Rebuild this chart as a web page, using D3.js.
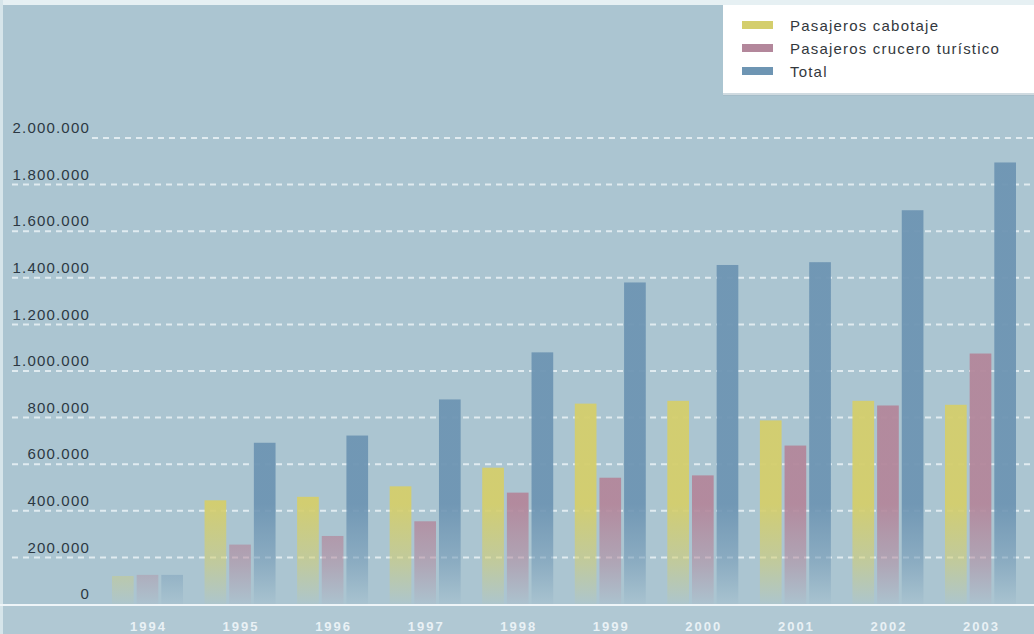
<!DOCTYPE html>
<html>
<head>
<meta charset="utf-8">
<script src="https://cdn.jsdelivr.net/npm/d3@7"></script>
<style>
  body { margin: 0; background: #abc5d1; }
  svg { display: block; }
  .tick-label { font-family: "Liberation Sans", Arial, sans-serif; font-size: 15px; fill: #2b3843; letter-spacing: 1.2px; }
  .year-label { font-family: "Liberation Sans", Arial, sans-serif; font-size: 13px; font-weight: bold; fill: #e9f1f5; letter-spacing: 2px; }
  .legend-text { font-family: "Liberation Sans", Arial, sans-serif; font-size: 15px; fill: #33383d; letter-spacing: 1.2px; }
</style>
</head>
<body>
<div id="chart"></div>
<script>
var width = 1034,
    height = 634;

// data
var years = ["1994", "1995", "1996", "1997", "1998", "1999", "2000", "2001", "2002", "2003"];
var cabotaje = [120000, 445000, 460000, 505000, 585000, 860000, 872000, 788000, 872000, 855000];
var crucero  = [125000, 255000, 292000, 355000, 478000, 542000, 552000, 680000, 852000, 1075000];
var total    = [125000, 692000, 723000, 878000, 1080000, 1380000, 1455000, 1467000, 1690000, 1895000];
var seriesNames = ["Pasajeros cabotaje", "Pasajeros crucero turístico", "Total"];
var seriesColors = ["#d4ce6c", "#b3879b", "#6e95b3"];
var yTicks = [0, 200000, 400000, 600000, 800000, 1000000, 1200000, 1400000, 1600000, 1800000, 2000000];

var series = [cabotaje, crucero, total];

var locale = d3.formatLocale({decimal: ",", thousands: ".", grouping: [3], currency: ["", ""]});
var fmt = locale.format(",d");

var svg = d3.select("#chart").append("svg")
  .attr("width", width)
  .attr("height", height);

var defs = svg.append("defs");

//scales
var xScale = d3.scaleBand()
  .domain(years)
  .range([112, 1016])
  .paddingInner(0.233)
  .paddingOuter(0);

var xSub = d3.scaleBand()
  .domain(d3.range(series.length))
  .range([0, xScale.bandwidth()])
  .paddingInner(0.12);

var yScale = d3.scaleLinear()
  .domain([0, 2000000])
  .range([604, 138]);

//background
svg.append("rect")
  .attr("width", width).attr("height", height)
  .attr("fill", "#abc5d1");
svg.append("rect")
  .attr("y", yScale(0)).attr("width", width).attr("height", height - yScale(0))
  .attr("fill", "#b0c8d3");
svg.append("rect")
  .attr("width", width).attr("height", 5)
  .attr("fill", "#e6f0f3");
svg.append("rect")
  .attr("width", 3).attr("height", height)
  .attr("fill", "#d6e5ea");

//grid lines
svg.append("g")
  .selectAll("line")
  .data(yTicks.slice(1))
  .enter().append("line")
    .attr("x1", function(d) { return d == 2000000 ? 92 : 12; })
    .attr("x2", width)
    .attr("y1", function(d) { return yScale(d); })
    .attr("y2", function(d) { return yScale(d); })
    .attr("stroke", "#eef4f7")
    .attr("stroke-opacity", 0.8)
    .attr("stroke-width", 2)
    .attr("stroke-dasharray", "6,5");

//fading gradients for bars
seriesColors.forEach(function(c, i) {
  var grad = defs.append("linearGradient")
    .attr("id", "fade" + i)
    .attr("gradientUnits", "userSpaceOnUse")
    .attr("x1", 0).attr("x2", 0)
    .attr("y1", yScale(0) - 100).attr("y2", yScale(0));
  grad.append("stop").attr("offset", 0).attr("stop-color", c).attr("stop-opacity", 0.95);
  grad.append("stop").attr("offset", 0.6).attr("stop-color", c).attr("stop-opacity", 0.5);
  grad.append("stop").attr("offset", 1).attr("stop-color", c).attr("stop-opacity", 0.05);
});

//bars
var groups = svg.append("g").attr("id", "bars")
  .selectAll("g")
  .data(years)
  .enter().append("g")
    .attr("transform", function(d) { return "translate(" + xScale(d) + ",0)"; });

groups.selectAll("rect")
  .data(function(d, i) { return series.map(function(s, k) { return {k: k, v: s[i]}; }); })
  .enter().append("rect")
    .attr("x", function(d) { return xSub(d.k); })
    .attr("y", function(d) { return yScale(d.v); })
    .attr("width", xSub.bandwidth())
    .attr("height", function(d) { return yScale(0) - yScale(d.v); })
    .attr("fill", function(d) { return "url(#fade" + d.k + ")"; });

//baseline
svg.append("line")
  .attr("x1", 0).attr("x2", width)
  .attr("y1", yScale(0) + 1).attr("y2", yScale(0) + 1)
  .attr("stroke", "#eef5f8")
  .attr("stroke-width", 2);

//y labels
svg.append("g")
  .selectAll("text")
  .data(yTicks)
  .enter().append("text")
    .attr("class", "tick-label")
    .attr("text-anchor", "end")
    .attr("x", 90)
    .attr("y", function(d) { return yScale(d) - 10; })
    .attr("dy", "0.35em")
    .text(function(d) { return fmt(d); });

//x labels
svg.append("g")
  .selectAll("text")
  .data(years)
  .enter().append("text")
    .attr("class", "year-label")
    .attr("text-anchor", "middle")
    .attr("x", function(d) { return xScale(d) + xScale.bandwidth() / 2 + 1; })
    .attr("y", 626)
    .attr("dy", "0.35em")
    .text(function(d) { return d; });

//legend
var legend = svg.append("g").attr("transform", "translate(723,5)");
legend.append("rect")
  .attr("width", width - 723).attr("height", 90)
  .attr("fill", "#ffffff");
legend.append("rect")
  .attr("y", 88).attr("width", width - 723).attr("height", 3)
  .attr("fill", "#9fb6c2").attr("opacity", 0.5);

var items = legend.selectAll("g.item")
  .data(seriesNames)
  .enter().append("g")
    .attr("class", "item")
    .attr("transform", function(d, i) { return "translate(0," + (20 + i * 23) + ")"; });
items.append("rect")
  .attr("x", 19).attr("y", -4)
  .attr("width", 31).attr("height", 8)
  .attr("fill", function(d, i) { return seriesColors[i]; });
items.append("text")
  .attr("class", "legend-text")
  .attr("x", 67)
  .attr("y", 1)
  .attr("dy", "0.35em")
  .text(function(d) { return d; });
</script>
</body>
</html>
